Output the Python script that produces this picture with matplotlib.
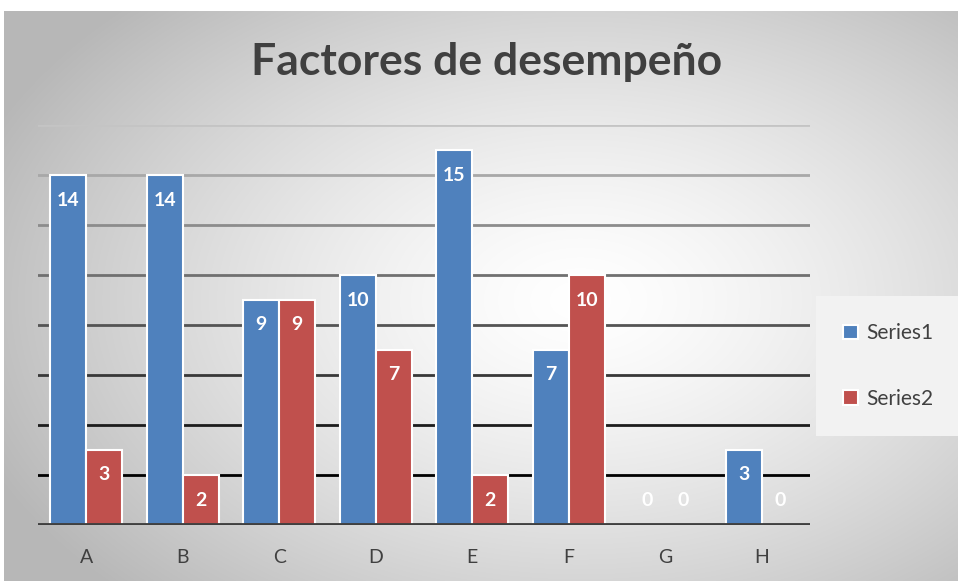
import numpy as np
import matplotlib.pyplot as plt
from matplotlib.colors import to_rgb

categories = ["A", "B", "C", "D", "E", "F", "G", "H"]
series1 = [14, 14, 9, 10, 15, 7, 0, 3]
series2 = [3, 2, 9, 7, 2, 10, 0, 0]
title = "Factores de desempeño"

BLUE = "#4f81bd"
RED = "#c0504d"
TEXT = "#404040"

plt.rcParams["font.family"] = ["Lato", "DejaVu Sans"]

W, H = 958, 581
fig = plt.figure(figsize=(W / 100, H / 100), dpi=100)
fig.patch.set_facecolor("white")

# radial gray background of the chart area
bg = fig.add_axes([4 / W, 0, (W - 4) / W, (H - 11) / H])
bg.set_axis_off()
yy, xx = np.mgrid[11:H, 4:W]
r = np.sqrt(((xx - 580) / 560.0) ** 2 + ((yy - 300) / 360.0) ** 2)
g = np.clip(1.0 - 0.23 * r ** 1.4, 0.72, 1.0)
bg.imshow(np.dstack([g, g, g]), aspect="auto", extent=(0, 1, 0, 1), origin="upper")
bg.set_xlim(0, 1)
bg.set_ylim(0, 1)

ax = fig.add_axes([38 / W, (H - 525) / H, (810 - 38) / W, 400 / H])
ax.patch.set_alpha(0)

x = np.arange(len(categories))
bw = 0.375
b1 = ax.bar(x - bw / 2, series1, bw, color=BLUE, edgecolor="white", linewidth=1.5, label="Series1", zorder=3)
b2 = ax.bar(x + bw / 2, series2, bw, color=RED, edgecolor="white", linewidth=1.5, label="Series2", zorder=3)

ax.set_xlim(-0.5, len(categories) - 0.5)
ax.set_ylim(0, 16)

# gridlines fade from black at the bottom to light gray at the top
dark = np.array(to_rgb("#000000"))
light = np.array(to_rgb("#c4c4c4"))
for lvl in range(2, 17, 2):
    t = (lvl - 2) / 14
    ax.axhline(lvl, color=dark * (1 - t) + light * t, linewidth=2, zorder=1)
ax.axhline(0, color="#404040", linewidth=3.5, zorder=4)

for bars, vals in ((b1, series1), (b2, series2)):
    for rect, v in zip(bars, vals):
        cx = rect.get_x() + rect.get_width() / 2
        off = -25 if v > 0 else 25
        ax.annotate(str(v), (cx, v), xytext=(0, off), textcoords="offset pixels",
                    ha="center", va="center", color="white", fontsize=14,
                    fontweight="bold", zorder=5)

for s in ax.spines.values():
    s.set_visible(False)
ax.set_yticks([])
ax.set_xticks(x)
ax.set_xticklabels(categories, fontsize=14, color=TEXT)
ax.tick_params(axis="x", length=0, pad=17)

fig.text(487 / W, 1 - 62 / H, title, ha="center", va="center",
         fontsize=32, fontweight="bold", color=TEXT)

leg = fig.legend(handles=[b1, b2], labels=["Series1", "Series2"],
                 loc="upper left", bbox_to_anchor=(816 / W, 1 - 296 / H),
                 frameon=True, fancybox=False, facecolor="#f2f2f2", edgecolor="none",
                 framealpha=1, fontsize=15, labelcolor=TEXT,
                 handlelength=0.7, handleheight=0.7, handletextpad=0.4,
                 labelspacing=2.2, borderpad=1.3, borderaxespad=0)

fig.savefig("out.png", dpi=100)
